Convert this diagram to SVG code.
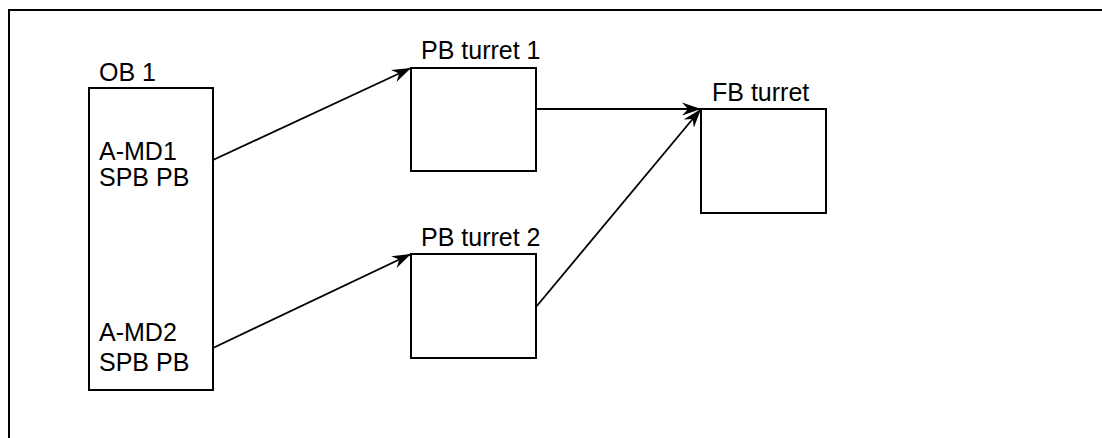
<svg xmlns="http://www.w3.org/2000/svg" width="1102" height="438" viewBox="0 0 1102 438">
<style>
.box{fill:none;stroke:#000;stroke-width:2}
.t{font-family:"Liberation Sans",Arial,sans-serif;font-size:25px;fill:#000}
.c{fill:none;stroke:#000;stroke-width:1.8}
</style>
<defs>
<marker id="ah" markerWidth="22" markerHeight="14" refX="19" refY="7" orient="auto" markerUnits="userSpaceOnUse">
<path d="M0,0.5 L19,7 L0,13.5 L6,7 Z" fill="#000"/>
</marker>
</defs>
<rect width="1102" height="438" fill="#fff"/>
<path d="M9,438 V10 H1102" fill="none" stroke="#000" stroke-width="2"/>
<g id="ob1">
<rect class="box" x="89" y="88" width="124" height="302"/>
<text class="t" x="99" y="81">OB 1</text>
<text class="t" x="99" y="160">A-MD1</text>
<text class="t" x="99" y="186">SPB PB</text>
<text class="t" x="99" y="341">A-MD2</text>
<text class="t" x="99" y="371">SPB PB</text>
</g>
<g id="pb1">
<rect class="box" x="411" y="68" width="125" height="103"/>
<text class="t" x="421" y="59">PB turret 1</text>
</g>
<g id="pb2">
<rect class="box" x="411" y="254" width="125" height="104"/>
<text class="t" x="421" y="246">PB turret 2</text>
</g>
<g id="fb">
<rect class="box" x="701" y="109" width="125" height="104"/>
<text class="t" x="712" y="101">FB turret</text>
</g>
<g id="connectors">
<line class="c" x1="213" y1="160" x2="411" y2="68" marker-end="url(#ah)"/>
<line class="c" x1="213" y1="348" x2="411" y2="254" marker-end="url(#ah)"/>
<line class="c" x1="536" y1="109" x2="701" y2="109" marker-end="url(#ah)"/>
<line class="c" x1="536" y1="307" x2="701" y2="109" marker-end="url(#ah)"/>
</g>
</svg>
